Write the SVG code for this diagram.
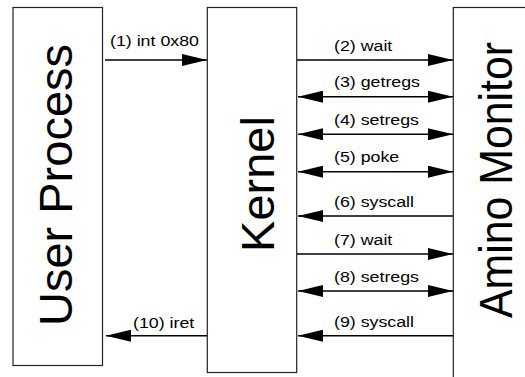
<svg xmlns="http://www.w3.org/2000/svg" width="525" height="377" viewBox="0 0 525 377">
<defs>
<marker id="ah" viewBox="0 0 25 12" refX="25" refY="6" markerWidth="25" markerHeight="12" markerUnits="userSpaceOnUse" orient="auto-start-reverse">
<path d="M0,0 L25,6 L0,12 Z" fill="#000"/>
</marker>
</defs>
<style>
.box{fill:#fff;stroke:#222;stroke-width:1.2}
.big{font-family:"Liberation Sans",Arial,sans-serif;font-size:47px;fill:#000;text-anchor:middle}
.lbl{font-family:"Liberation Sans",Arial,sans-serif;font-size:14px;fill:#000}
.ln{stroke:#000;stroke-width:1.5;fill:none}
</style>
<rect width="525" height="377" fill="#fff"/>
<g id="user-process">
<rect class="box" x="13" y="7.5" width="89.5" height="358"/>
<text class="big" transform="translate(72,185) rotate(-90)">User Process</text>
</g>
<g id="kernel">
<rect class="box" x="207.3" y="7.5" width="89.4" height="365"/>
<text class="big" transform="translate(274,184) rotate(-90)">Kernel</text>
</g>
<g id="amino-monitor">
<rect class="box" x="453.3" y="7.5" width="100" height="400"/>
<text class="big" transform="translate(511.5,180) rotate(-90)" textLength="276" lengthAdjust="spacingAndGlyphs">Amino Monitor</text>
</g>
<g id="connectors">
<line class="ln" x1="105" y1="60" x2="207" y2="60" marker-end="url(#ah)"/>
<line class="ln" x1="297" y1="60" x2="453" y2="60" marker-end="url(#ah)"/>
<line class="ln" x1="298" y1="96.7" x2="453" y2="96.7" marker-start="url(#ah)" marker-end="url(#ah)"/>
<line class="ln" x1="298" y1="134.3" x2="453" y2="134.3" marker-start="url(#ah)" marker-end="url(#ah)"/>
<line class="ln" x1="298" y1="171.7" x2="453" y2="171.7" marker-start="url(#ah)" marker-end="url(#ah)"/>
<line class="ln" x1="453" y1="216" x2="298" y2="216" marker-end="url(#ah)"/>
<line class="ln" x1="297" y1="254" x2="453" y2="254" marker-end="url(#ah)"/>
<line class="ln" x1="298" y1="291" x2="453" y2="291" marker-start="url(#ah)" marker-end="url(#ah)"/>
<line class="ln" x1="453" y1="335.7" x2="298" y2="335.7" marker-end="url(#ah)"/>
<line class="ln" x1="207" y1="335.7" x2="106" y2="335.7" marker-end="url(#ah)"/>
<g class="lbl">
<text transform="translate(110,45.5) scale(1.27,1)">(1) int 0x80</text>
<text transform="translate(334,50.5) scale(1.27,1)">(2) wait</text>
<text transform="translate(334,87) scale(1.27,1)">(3) getregs</text>
<text transform="translate(334,124.5) scale(1.27,1)">(4) setregs</text>
<text transform="translate(334,162) scale(1.27,1)">(5) poke</text>
<text transform="translate(334,207) scale(1.27,1)">(6) syscall</text>
<text transform="translate(334,244.5) scale(1.27,1)">(7) wait</text>
<text transform="translate(334,281.5) scale(1.27,1)">(8) setregs</text>
<text transform="translate(334,326.5) scale(1.27,1)">(9) syscall</text>
<text transform="translate(133,327.5) scale(1.27,1)">(10) iret</text>
</g>
</g>
</svg>
